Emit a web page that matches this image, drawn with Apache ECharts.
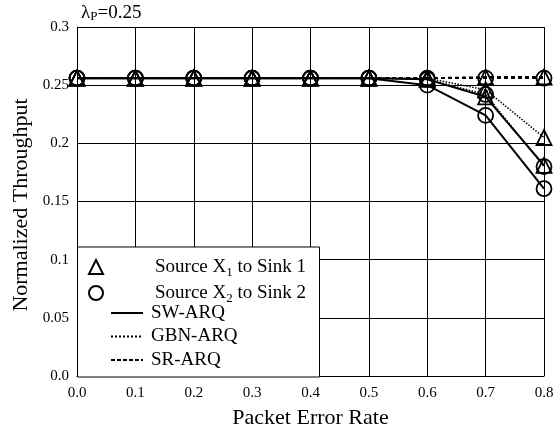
<!DOCTYPE html>
<html>
<head>
<meta charset="utf-8">
<script src="https://cdn.jsdelivr.net/npm/echarts@6/dist/echarts.min.js"></script>
<style>
  html, body { margin: 0; padding: 0; background: #fff; }
  #chart { width: 553px; height: 427px; }
</style>
</head>
<body>
<div id="chart"></div>
<script>
  // packet error rate (x)
  var per = [0.0, 0.1, 0.2, 0.3, 0.4, 0.5, 0.6, 0.7, 0.8]
  // normalized throughput
  var swX1 = [0.256, 0.256, 0.256, 0.256, 0.256, 0.256, 0.255, 0.240, 0.181]
  var swX2 = [0.256, 0.256, 0.256, 0.256, 0.256, 0.256, 0.250, 0.224, 0.161]
  var gbnX1 = [0.256, 0.256, 0.256, 0.256, 0.256, 0.256, 0.256, 0.246, 0.205]
  var gbnX2 = [0.256, 0.256, 0.256, 0.256, 0.256, 0.256, 0.255, 0.242, 0.180]
  var srX1 = [0.256, 0.256, 0.256, 0.256, 0.256, 0.256, 0.256, 0.257, 0.257]
  var srX2 = [0.256, 0.256, 0.256, 0.256, 0.256, 0.256, 0.256, 0.256, 0.256]

  var FONT = 'Liberation Serif'

  function pairs(ys) {
    return per.map(function (x, i) { return [x, ys[i]] })
  }

  var lineTypes = {
    sw: { type: 'solid', width: 2 },
    gbn: { type: 'dotted', width: 1.5 },
    sr: { type: [4, 3], width: 1.8 }
  }

  function dataSeries(name, ys, kind, symbol) {
    return {
      name: name,
      type: 'line',
      data: pairs(ys),
      symbol: symbol,
      symbolSize: 15,
      lineStyle: { color: '#000', type: lineTypes[kind].type, width: lineTypes[kind].width },
      itemStyle: { color: 'transparent', borderColor: '#000', borderWidth: 1.8 },
      emphasis: { disabled: true },
      z: 3
    }
  }

  // empty series only used for legend entries
  function legendSeries(name, symbol, lineType) {
    return {
      name: name,
      type: 'line',
      data: [],
      symbol: symbol,
      lineStyle: { color: '#000', type: lineType || 'solid', width: lineType ? 1 : 0 },
      itemStyle: { color: 'transparent', borderColor: '#000', borderWidth: 1.2 }
    }
  }

  var subRich = {
    sub: { fontFamily: FONT, fontSize: 13, color: '#000', verticalAlign: 'top', padding: [9, 0, 0, 0], lineHeight: 13 }
  }

  var chart = echarts.init(document.getElementById('chart'))
  chart.setOption({
    animation: false,
    backgroundColor: '#fff',
    textStyle: { fontFamily: FONT, color: '#000' },
    title: {
      text: 'λ{sub|P}=0.25',
      left: 81,
      top: 2,
      padding: 0,
      textStyle: {
        fontFamily: FONT, fontSize: 19, fontWeight: 'normal', color: '#000', lineHeight: 22,
        rich: { sub: { fontFamily: FONT, fontSize: 13, color: '#000', verticalAlign: 'top', padding: [8, 0, 0, 0], lineHeight: 13 } }
      }
    },
    grid: { left: 77, right: 9, top: 27, bottom: 51, containLabel: false, outerBoundsMode: 'none' },
    xAxis: {
      type: 'value',
      min: 0,
      max: 0.8,
      interval: 0.1,
      name: 'Packet Error Rate',
      nameLocation: 'middle',
      nameGap: 31,
      nameTextStyle: { fontFamily: FONT, fontSize: 22, color: '#000' },
      axisLine: { lineStyle: { color: '#000', width: 1 } },
      axisTick: { show: false },
      axisLabel: {
        margin: 10, fontFamily: FONT, fontSize: 15, color: '#000',
        formatter: function (v) { return v.toFixed(1) }
      },
      splitLine: { show: true, lineStyle: { color: '#000', width: 1 } }
    },
    yAxis: {
      type: 'value',
      min: 0,
      max: 0.3,
      interval: 0.05,
      name: 'Normalized Throughput',
      nameLocation: 'middle',
      nameGap: 44,
      nameTextStyle: { fontFamily: FONT, fontSize: 22, color: '#000', padding: [0, 7, 0, 0] },
      axisLine: { show: true, lineStyle: { color: '#000', width: 1 } },
      axisTick: { show: false },
      axisLabel: {
        margin: 8, fontFamily: FONT, fontSize: 15, color: '#000',
        formatter: function (v) { return v === 0 ? '0.0' : String(Math.round(v * 100) / 100) }
      },
      splitLine: { show: true, lineStyle: { color: '#000', width: 1 } }
    },
    graphic: [{
      type: 'rect',
      left: 77,
      top: 246.5,
      z: 50,
      shape: { width: 242, height: 130 },
      style: { fill: '#fff', stroke: '#000', lineWidth: 1 }
    }],
    legend: [{
      orient: 'vertical',
      left: 88,
      top: 257,
      padding: 0,
      z: 60,
      itemWidth: 14,
      itemHeight: 14,
      itemGap: 4,
      selectedMode: false,
      data: [
        { name: 'Source X1 to Sink 1', icon: 'triangle' },
        { name: 'Source X2 to Sink 2', icon: 'circle' }
      ],
      formatter: function (name) {
        return name.replace(/X(\d)/, 'X{sub|$1}')
      },
      textStyle: { fontFamily: FONT, fontSize: 19, color: '#000', lineHeight: 20, padding: [0, 0, 0, 47], rich: subRich }
    }, {
      orient: 'vertical',
      left: 110,
      top: 303,
      padding: 0,
      z: 60,
      itemWidth: 32,
      itemHeight: 14,
      itemGap: 3.5,
      selectedMode: false,
      itemStyle: { opacity: 0 },
      data: ['SW-ARQ', 'GBN-ARQ', 'SR-ARQ'],
      textStyle: { fontFamily: FONT, fontSize: 19, color: '#000', lineHeight: 20, padding: [0, 0, 0, 3] }
    }],
    series: [
      dataSeries('SW X1', swX1, 'sw', 'triangle'),
      dataSeries('SW X2', swX2, 'sw', 'circle'),
      dataSeries('GBN X1', gbnX1, 'gbn', 'triangle'),
      dataSeries('GBN X2', gbnX2, 'gbn', 'circle'),
      dataSeries('SR X1', srX1, 'sr', 'triangle'),
      dataSeries('SR X2', srX2, 'sr', 'circle'),
      legendSeries('Source X1 to Sink 1', 'triangle'),
      legendSeries('Source X2 to Sink 2', 'circle'),
      legendSeries('SW-ARQ', 'none', 'solid'),
      legendSeries('GBN-ARQ', 'none', 'dotted'),
      legendSeries('SR-ARQ', 'none', [4, 2])
    ]
  })
</script>
</body>
</html>
